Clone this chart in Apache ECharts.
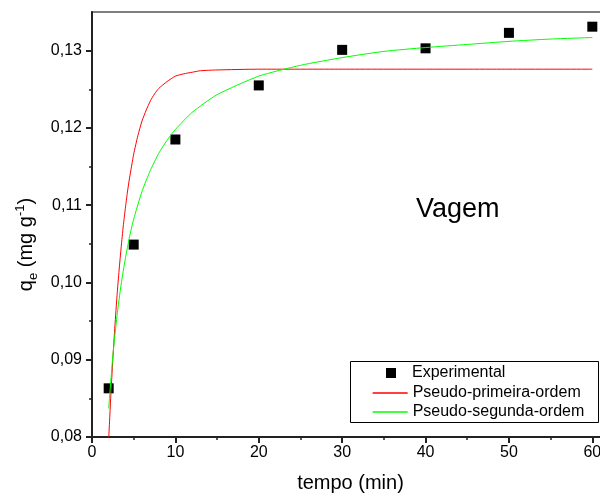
<!DOCTYPE html>
<html>
<head>
<meta charset="utf-8">
<script src="https://cdn.jsdelivr.net/npm/echarts@6/dist/echarts.min.js"></script>
<style>html,body{margin:0;padding:0;background:#fff}#c{width:600px;height:499px}</style>
</head>
<body>
<div id="c"></div>
<script>
// Experimental points
const expTime = [2, 5, 10, 20, 30, 40, 50, 60];
const expQ = [0.0863, 0.1049, 0.1185, 0.1255, 0.1301, 0.1303, 0.1323, 0.1331];

// Pseudo-primeira-ordem curve
const pfoTime = [2, 2.25, 2.5, 2.75, 3, 3.25, 3.5, 3.75, 4, 4.25, 4.5, 5, 5.5, 6, 6.5, 7, 7.5, 8, 9, 10, 11, 12, 13, 15, 20, 30, 40, 50, 60];
const pfoQ = [0.0797, 0.0852, 0.0901, 0.0944, 0.0983, 0.1016, 0.1046, 0.1073, 0.1096, 0.1117, 0.1135, 0.1166, 0.1190, 0.1209, 0.1223, 0.1235, 0.1244, 0.1251, 0.1260, 0.1267, 0.1270, 0.1272, 0.1274, 0.1275, 0.1276, 0.1276, 0.1276, 0.1276, 0.1276];

// Pseudo-segunda-ordem curve
const psoTime = [2, 2.5, 3, 3.5, 4, 4.5, 5, 6, 7, 8, 9, 10, 12, 15, 20, 25, 30, 35, 40, 45, 50, 55, 60];
const psoQ = [0.0837, 0.0905, 0.0957, 0.0998, 0.1031, 0.1059, 0.1082, 0.1118, 0.1145, 0.1167, 0.1184, 0.1198, 0.1220, 0.1243, 0.1267, 0.1281, 0.1291, 0.1299, 0.1304, 0.1308, 0.1312, 0.1315, 0.1317];

// Axis ticks
const xTicks = [0, 10, 20, 30, 40, 50, 60];
const xMinorTicks = [5, 15, 25, 35, 45, 55];
const yTicks = [0.08, 0.09, 0.10, 0.11, 0.12, 0.13];
const yMinorTicks = [0.085, 0.095, 0.105, 0.115, 0.125];

const FONT = 'Liberation Sans, Arial, sans-serif';
const RED = '#ff0000';
const GREEN = '#00ff00';
const zip = (a, b) => a.map((v, i) => [v, b[i]]);
const fmtY = v => v.toFixed(2).replace('.', ',');

const chart = echarts.init(document.getElementById('c'), null, { renderer: 'canvas' });
chart.setOption({
  animation: false,
  backgroundColor: '#fff',
  grid: {
    left: 92, top: 12, width: 517, height: 425, containLabel: false, outerBoundsMode: 'none',
    show: true, borderColor: '#555', borderWidth: 1.5, backgroundColor: 'transparent'
  },
  xAxis: [
    {
      type: 'value', min: 0, max: 62, position: 'bottom',
      name: 'tempo (min)', nameLocation: 'middle', nameGap: 36,
      nameTextStyle: { fontSize: 20, color: '#000', fontFamily: FONT },
      axisLine: { lineStyle: { color: '#222', width: 2 } },
      axisTick: { show: true, inside: false, length: 6, lineStyle: { color: '#222', width: 2 }, customValues: xTicks },
      axisLabel: { customValues: xTicks, fontSize: 16, color: '#000', fontFamily: FONT, margin: 8 },
      splitLine: { show: false }
    },
    {
      type: 'value', min: 0, max: 62, position: 'bottom',
      axisLine: { show: false },
      axisTick: { show: true, inside: false, length: 3, lineStyle: { color: '#222', width: 1.5 }, customValues: xMinorTicks },
      axisLabel: { show: false },
      splitLine: { show: false }
    }
  ],
  yAxis: [
    {
      type: 'value', min: 0.08, max: 0.135, position: 'left',
      name: 'q{sub|e} (mg g{sup|-1})', nameLocation: 'middle', nameGap: 52,
      nameTextStyle: {
        fontSize: 20, color: '#000', fontFamily: FONT, lineHeight: 26, padding: [0, 40, 0, 0],
        rich: {
          sub: { fontSize: 13, lineHeight: 13, verticalAlign: 'bottom', fontFamily: FONT, color: '#000' },
          sup: { fontSize: 13, lineHeight: 13, verticalAlign: 'top', fontFamily: FONT, color: '#000' }
        }
      },
      axisLine: { show: true, lineStyle: { color: '#222', width: 2 } },
      axisTick: { show: true, inside: false, length: 6, lineStyle: { color: '#222', width: 2 }, customValues: yTicks },
      axisLabel: { customValues: yTicks, formatter: fmtY, fontSize: 16, color: '#000', fontFamily: FONT, margin: 10 },
      splitLine: { show: false }
    },
    {
      type: 'value', min: 0.08, max: 0.135, position: 'left',
      axisLine: { show: false },
      axisTick: { show: true, inside: false, length: 3, lineStyle: { color: '#222', width: 1.5 }, customValues: yMinorTicks },
      axisLabel: { show: false },
      splitLine: { show: false }
    }
  ],
  legend: [
    {
      data: [{ name: 'Experimental', icon: 'path://M0,0H10V10H0Z' }],
      left: 386, top: 365, itemWidth: 32, itemHeight: 10, padding: 0, selectedMode: false, z: 12,
      itemStyle: { opacity: 1 },
      textStyle: { fontSize: 16, lineHeight: 16, color: '#000', fontFamily: FONT }
    },
    {
      data: ['Pseudo-primeira-ordem'],
      left: 372, top: 385, itemWidth: 35, itemHeight: 10, padding: 0, selectedMode: false, z: 12,
      itemStyle: { opacity: 0 }, lineStyle: { width: 1.3, color: RED },
      textStyle: { fontSize: 16, lineHeight: 16, color: '#000', fontFamily: FONT }
    },
    {
      data: ['Pseudo-segunda-ordem'],
      left: 372, top: 404, itemWidth: 35, itemHeight: 10, padding: 0, selectedMode: false, z: 12,
      itemStyle: { opacity: 0 }, lineStyle: { width: 1.3, color: GREEN },
      textStyle: { fontSize: 16, lineHeight: 16, color: '#000', fontFamily: FONT }
    }
  ],
  graphic: [
    { type: 'rect', z: 10, shape: { x: 350.5, y: 361.5, width: 248, height: 61 }, style: { fill: '#fff', stroke: '#000', lineWidth: 1 } },
    { type: 'text', z: 10, left: 416, top: 196, style: { text: 'Vagem', font: '27px ' + FONT, fill: '#000' } }
  ],
  series: [
    {
      name: 'Experimental', type: 'scatter', xAxisIndex: 0, yAxisIndex: 0,
      data: zip(expTime, expQ), symbol: 'rect', symbolSize: 10,
      itemStyle: { color: '#000', opacity: 1 }, z: 2
    },
    {
      name: 'Pseudo-primeira-ordem', type: 'line', xAxisIndex: 0, yAxisIndex: 0,
      data: zip(pfoTime, pfoQ), symbol: 'none', showSymbol: false, smooth: 0.2, clip: true,
      lineStyle: { color: RED, width: 1 }, itemStyle: { color: RED }, z: 3
    },
    {
      name: 'Pseudo-segunda-ordem', type: 'line', xAxisIndex: 0, yAxisIndex: 0,
      data: zip(psoTime, psoQ), symbol: 'none', showSymbol: false, smooth: 0.2, clip: true,
      lineStyle: { color: GREEN, width: 1 }, itemStyle: { color: GREEN }, z: 3
    }
  ]
});
</script>
</body>
</html>
